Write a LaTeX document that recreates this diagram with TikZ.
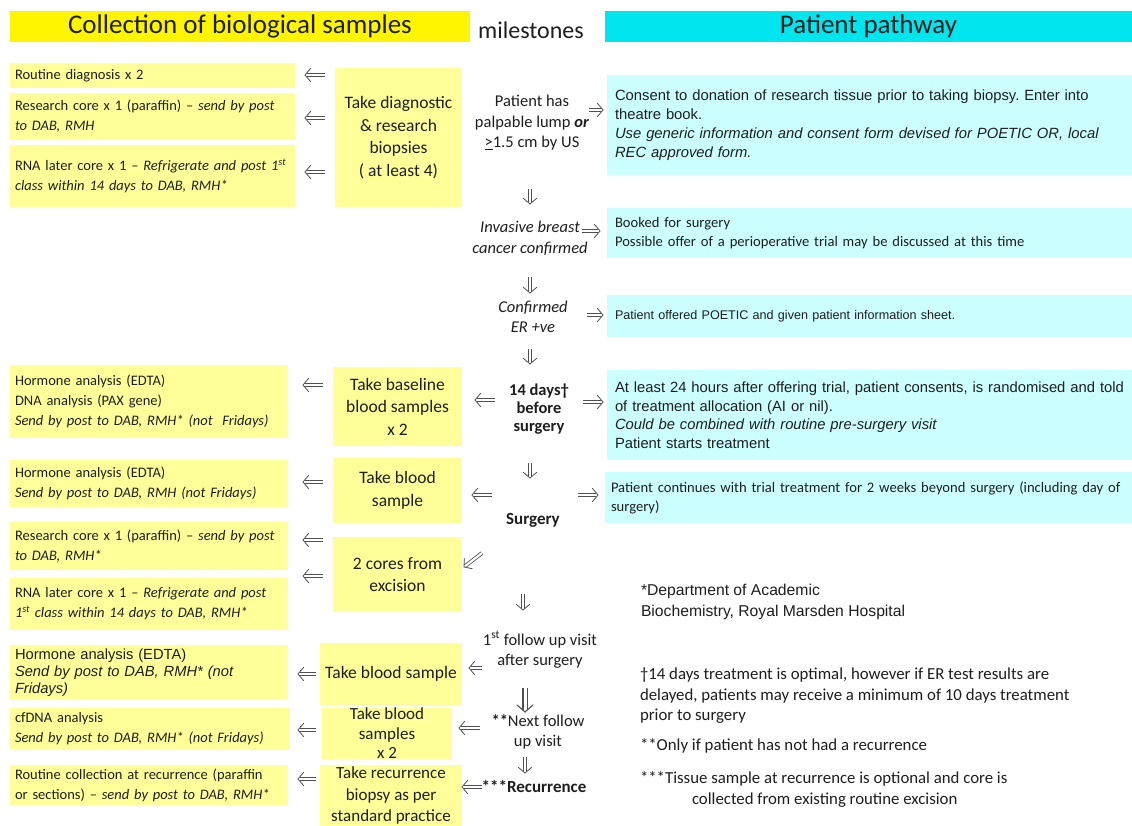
\documentclass[tikz,border=0pt]{standalone}
\usepackage{fontspec}
\setmainfont{Carlito}
\newfontfamily\arialf{Liberation Sans}
\usetikzlibrary{decorations.markings}
\frenchspacing
\definecolor{hdryellow}{RGB}{255,245,0}
\definecolor{boxyellow}{RGB}{255,255,153}
\definecolor{hdrcyan}{RGB}{0,229,238}
\definecolor{boxcyan}{RGB}{204,255,255}
\definecolor{arrowgray}{RGB}{80,80,80}
\definecolor{ink}{RGB}{30,30,30}
\begin{document}
\begin{tikzpicture}[x=1pt,y=-1pt,
  every node/.style={inner sep=0pt, outer sep=0pt, text=ink},
  headbar/.style={anchor=north west, inner sep=0pt, font=\fontsize{27}{30}\selectfont},
  sample/.style={anchor=north west, fill=boxyellow, align=left, inner xsep=5pt, inner ysep=0pt,
    font=\fontsize{14.5}{20}\selectfont},
  action/.style={anchor=north west, fill=boxyellow, align=center, inner sep=0pt,
    font=\fontsize{17.5}{22.5}\selectfont},
  pathbox/.style={anchor=north west, fill=boxcyan, align=left, inner xsep=8pt, inner ysep=0pt,
    font=\arialf\fontsize{14.8}{18.8}\selectfont},
  milestone/.style={align=center, font=\fontsize{16.5}{20.5}\selectfont},
  note/.style={anchor=north west, align=left, font=\fontsize{16.8}{20.5}\selectfont},
  % open chevron head drawn at the end of a double-lined connector
  chevron/.style n args={3}{decoration={markings, mark=at position 1 with {%
      \pgfsetinnerlinewidth{0pt}%
      \draw[arrowgray, line width=#3, line cap=round, line join=miter, shorten >=0pt, shorten <=0pt]
        (-#1,#2) -- (0pt,0pt) -- (-#1,-#2);}},
    postaction=decorate},
  flow/.style={draw=arrowgray, double, double distance=2.2pt, line width=0.8pt,
    shorten >=1.6pt, chevron={5.5pt}{6.5pt}{0.8pt}},
  boldflow/.style={draw=arrowgray, double, double distance=3pt, line width=1.1pt,
    shorten >=2.2pt, chevron={7pt}{8pt}{1.1pt}},
]
\fill[white] (0,0) rectangle (1132,826);
\useasboundingbox (0,0) rectangle (1132,826);

% ---- column headings ----
\node[headbar, fill=hdryellow, minimum width=460pt, minimum height=31pt] (hleft) at (10,11)
  {Collection of biological samples};
\node[font=\fontsize{24}{28}\selectfont] (hmid) at (531,30) {milestones};
\node[headbar, fill=hdrcyan, minimum width=527pt, minimum height=31pt] (hright) at (605,11)
  {Patient pathway};

% ---- samples collected (left column) ----
\node[sample, text width=275pt, minimum height=25pt] (l1) at (10,63) {Routine diagnosis x 2};
\node[sample, text width=275pt, minimum height=47pt] (l2) at (10,93)
  {Research core x 1 (paraffin) – \textit{send by post}\\\textit{to DAB, RMH}};
\node[sample, text width=275pt, minimum height=62pt] (l3) at (10,145)
  {RNA later core x 1 – \textit{Refrigerate and post 1\textsuperscript{st}}\\\textit{class within 14 days to DAB, RMH*}};
\node[sample, text width=268pt, minimum height=73pt] (l4) at (10,365)
  {Hormone analysis (EDTA)\\DNA analysis (PAX gene)\\\textit{Send by post to DAB, RMH* (not\ \ Fridays)}};
\node[sample, text width=268pt, minimum height=47pt] (l5) at (10,460)
  {Hormone analysis (EDTA)\\\textit{Send by post to DAB, RMH (not Fridays)}};
\node[sample, text width=268pt, minimum height=48pt] (l6) at (10,522)
  {Research core x 1 (paraffin) – \textit{send by post}\\\textit{to DAB, RMH*}};
\node[sample, text width=268pt, minimum height=52pt] (l7) at (10,578)
  {RNA later core x 1 – \textit{Refrigerate and post}\\\textit{1\textsuperscript{st} class within 14 days to DAB, RMH*}};
\node[sample, text width=268pt, minimum height=55pt, font=\arialf\fontsize{14.7}{17}\selectfont] (l8) at (10,645)
  {Hormone analysis (EDTA)\\\textit{Send by post to DAB, RMH* (not}\\\textit{Fridays)}};
\node[sample, text width=270pt, minimum height=42pt] (l9) at (10,708)
  {cfDNA analysis\\\textit{Send by post to DAB, RMH* (not Fridays)}};
\node[sample, text width=268pt, minimum height=40pt] (l10) at (10,765)
  {Routine collection at recurrence (paraffin\\or sections) – \textit{send by post to DAB, RMH*}};

% ---- collection steps ----
\node[action, minimum width=127pt, minimum height=139pt] (m1) at (335,68)
  {Take diagnostic\\\& research\\biopsies\\( at least 4)};
\node[action, minimum width=129pt, minimum height=79pt] (m2) at (333,367)
  {Take baseline\\blood samples\\x 2};
\node[action, minimum width=129pt, minimum height=65pt] (m3) at (333,458)
  {Take blood\\sample};
\node[action, minimum width=129pt, minimum height=75pt] (m4) at (333,537)
  {2 cores from\\excision};
\node[action, minimum width=142pt, minimum height=62pt] (m5) at (320,643)
  {Take blood sample};
\node[action, minimum width=130pt, minimum height=47pt, font=\fontsize{17}{19.5}\selectfont] (m6) at (322,708)
  {Take blood\\samples\\x 2};
\node[action, minimum width=142pt, minimum height=61pt, font=\fontsize{17}{21.5}\selectfont] (m7) at (320,765)
  {Take recurrence\\biopsy as per\\standard practice};

% ---- milestones ----
\node[milestone] (ms1) at (532,123)
  {Patient has\\palpable lump \textbf{\textit{or}}\\\underline{>}1.5 cm by US};
\node[milestone] (ms2) at (530,238) {\textit{Invasive breast}\\\textit{cancer confirmed}};
\node[milestone] (ms3) at (533,317) {\textit{Confirmed}\\\textit{ER +ve}};
\node[milestone, font=\bfseries\fontsize{16.5}{18}\selectfont] (ms4) at (539,409)
  {14 days†\\before\\surgery};
\node[milestone, font=\bfseries\fontsize{17}{20}\selectfont] (ms5) at (533,520) {Surgery};
\node[milestone] (ms6) at (540,650) {1\textsuperscript{st} follow up visit\\after surgery};
\node[milestone] (ms7) at (538,732) {\textbf{**}Next follow\\up visit};
\node[milestone, font=\bfseries\fontsize{17}{20}\selectfont] (ms8) at (534,786) {***Recurrence};

% ---- patient pathway (right column) ----
\node[pathbox, text width=518pt, minimum height=100pt] (r1) at (607,75)
  {Consent to donation of research tissue prior to taking biopsy. Enter into\\theatre book.\\
   \textit{Use generic information and consent form devised for POETIC OR, local}\\\textit{REC approved form.}};
\node[pathbox, text width=518pt, minimum height=50pt, font=\fontsize{14.6}{18.5}\selectfont] (r2) at (607,208)
  {Booked for surgery\\Possible offer of a perioperative trial may be discussed at this time};
\node[pathbox, text width=518pt, minimum height=42pt, font=\arialf\fontsize{12.6}{18.5}\selectfont] (r3) at (607,295)
  {Patient offered POETIC and given patient information sheet.};
\node[pathbox, text width=518pt, minimum height=90pt, font=\arialf\fontsize{14.8}{18.5}\selectfont] (r4) at (607,370)
  {At least 24 hours after offering trial, patient consents, is randomised and told\\of treatment allocation (AI or nil).\\
   \textit{Could be combined with routine pre-surgery visit}\\Patient starts treatment};
\node[pathbox, text width=522pt, inner xsep=6pt, minimum height=51pt, font=\fontsize{14.6}{19}\selectfont] (r5) at (605,472)
  {Patient continues with trial treatment for 2 weeks beyond surgery (including day of\\surgery)};

% ---- footnotes ----
\node[note, font=\arialf\fontsize{15.7}{21}\selectfont] (n1) at (641,584)
  {*Department of Academic\\Biochemistry, Royal Marsden Hospital};
\node[note] (n2) at (640,668)
  {†14 days treatment is optimal, however if ER test results are\\delayed, patients may receive a minimum of 10 days treatment\\prior to surgery};
\node[note] (n3) at (640,739) {**Only if patient has not had a recurrence};
\node[note] (n4) at (640,772)
  {***Tissue sample at recurrence is optional and core is\\\hspace*{52pt}collected from existing routine excision};

% ---- steps to samples ----
\draw[flow] ([shift={(-10,-62.5)}]m1.west) -- ([shift={(10,-0.5)}]l1.east);
\draw[flow] ([shift={(-10,-19.5)}]m1.west) -- ([shift={(10,1.5)}]l2.east);
\draw[flow] ([shift={(-10,34.5)}]m1.west)  -- ([shift={(10,-4)}]l3.east);
\draw[flow] ([shift={(-10,-21.5)}]m2.west) -- ([shift={(15,-16.5)}]l4.east);
\draw[flow] ([shift={(-10,-8.5)}]m3.west)  -- ([shift={(15,-1.5)}]l5.east);
\draw[flow] ([shift={(-10,-34.5)}]m4.west) -- ([shift={(15,-6)}]l6.east);
\draw[flow] ([shift={(-10,1.5)}]m4.west)   -- ([shift={(15,-28)}]l7.east);
\draw[flow] ([shift={(-4,0)}]m5.west)      -- ([shift={(10,1.5)}]l8.east);
\draw[flow] ([shift={(-6,1)}]m6.west |- l9.east) -- ([shift={(8,1)}]l9.east);
\draw[flow] ([shift={(-4,-16.5)}]m7.west)  -- ([shift={(10,-6)}]l10.east);

% ---- milestone sequence ----
\draw[flow] ([shift={(-2,66)}]ms1.center)  -- ([shift={(0,-34)}]ms2.center);
\draw[flow] ([shift={(0,39)}]ms2.center)   -- ([shift={(-3,-24)}]ms3.center);
\draw[flow] ([shift={(-3,32)}]ms3.center)  -- ([shift={(-9,-45)}]ms4.center);
\draw[flow] ([shift={(-9,54)}]ms4.center)  -- ([shift={(-3,-42)}]ms5.center);
\draw[flow] ([shift={(-10,74)}]ms5.center) -- ([shift={(-17,-40)}]ms6.center);
\draw[boldflow] ([shift={(-15,38)}]ms6.center) -- ([shift={(-13,-20)}]ms7.center);
\draw[flow] ([shift={(-13,25)}]ms7.center) -- ([shift={(-9,-13)}]ms8.center);

% ---- milestones to pathway ----
\draw[flow] ([shift={(57,-13)}]ms1.center) -- ([shift={(-4,-15)}]r1.west);
\draw[flow] ([shift={(52,-7)}]ms2.center)  -- ([shift={(-7,-2)}]r2.west);
\draw[flow] ([shift={(54,-2)}]ms3.center)  -- ([shift={(-4,-1)}]r3.west);
\draw[flow] ([shift={(44,-7)}]ms4.center)  -- ([shift={(-4,-13)}]r4.west);
\draw[flow] ([shift={(45,-25)}]ms5.center) -- ([shift={(-7,-2.5)}]r5.west);

% ---- milestones to collection steps ----
\draw[flow] ([shift={(-44,-9)}]ms4.center)  -- ([shift={(13,-6.5)}]m2.east);
\draw[flow] ([shift={(-41,-25)}]ms5.center) -- ([shift={(10,4.5)}]m3.east);
\draw[flow] ([shift={(-51,33)}]ms5.center)  -- ([shift={(2,-7.5)}]m4.east);
\draw[flow] ([shift={(-58,18)}]ms6.center)  -- ([shift={(7,-6)}]m5.east);
\draw[flow] ([shift={(-58,-4)}]ms7.center)  -- ([shift={(7,-4)}]m6.east |- ms7.center);
\draw[flow] ([shift={(-52,1)}]ms8.center)   -- ([shift={(0,-8.5)}]m7.east);
\end{tikzpicture}
\end{document}
